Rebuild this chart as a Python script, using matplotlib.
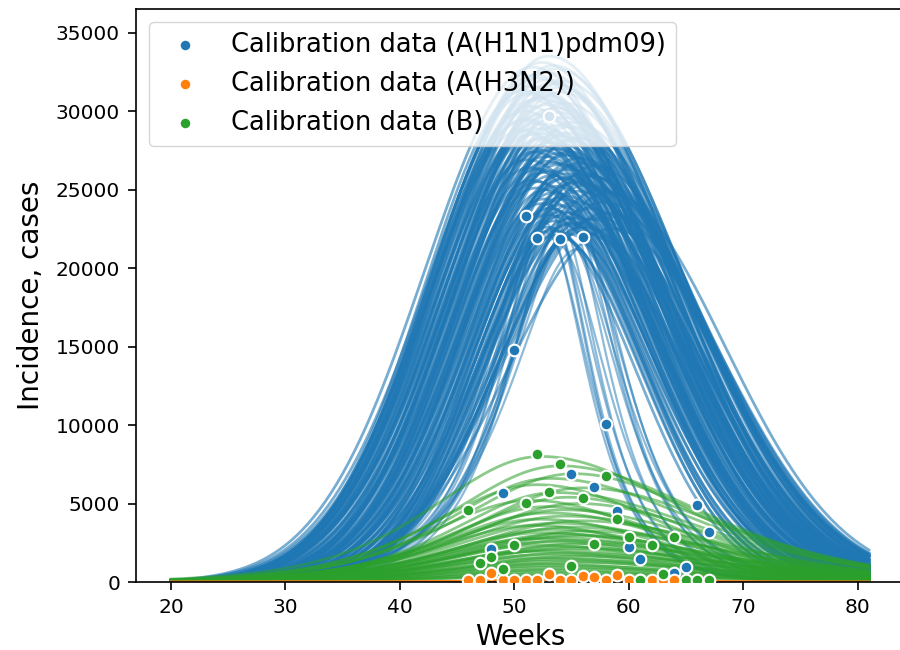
import numpy as np
import matplotlib
matplotlib.use("Agg")
import matplotlib.pyplot as plt

# ---------------- data ----------------
weeks = np.arange(20, 81.01, 0.25)

# A(H1N1)pdm09 model trajectories (bell-shaped group):
# peak week, peak cases, spread before the peak, spread after the peak (weeks)
blue_peak_week = [
    53.0, 52.4, 53.6, 51.8, 52.9, 53.3, 51.4, 52.2, 54.0, 52.7, 51.1, 53.9, 52.0, 53.4, 50.8, 52.6, 53.7, 51.6, 54.2, 52.1,
    51.6, 52.8, 53.7, 50.9, 52.3, 54.3, 53.1, 51.9, 54.8, 52.6, 53.5, 51.4, 54.1, 52.1, 55.0, 53.2, 51.0, 52.5,
    54.5, 53.8, 50.6, 52.0, 55.3, 53.0, 51.3, 52.9, 54.6, 51.7, 53.4, 55.1, 52.4, 54.0, 50.8, 53.6, 52.2,
    52.2, 53.6, 51.7, 54.6, 55.6, 52.9, 53.9, 51.3, 54.9, 52.5, 56.0, 53.3, 54.3, 52.0, 55.2, 53.7, 51.9, 54.0,
    52.7, 55.8, 53.1, 54.7, 51.1, 56.3, 52.4, 53.8, 55.0, 51.5, 54.4, 52.8, 56.5, 53.5, 52.1, 54.8, 55.4,
    53.4, 54.4, 52.6, 55.4, 53.8, 56.5, 54.2, 52.9, 55.0, 53.5, 54.8, 56.0, 53.2, 54.5, 55.7, 52.3, 53.9, 55.2,
    52.8, 54.1, 56.8, 53.0, 55.9, 54.6, 53.6,
    57.5, 58.0, 57.0, 58.5, 56.8, 57.8, 58.2, 57.3]
blue_peak_cases = [
    33500, 33100, 32700, 32300, 32000, 31800, 31600, 31400, 31200, 31000, 31100, 31500, 32100, 32900, 31300, 32500,
    31700, 32800, 31900, 31200,
    30700, 30400, 30200, 30000, 29800, 29600, 29400, 29200, 29000, 28900, 28700, 28500, 28400, 28200, 28100, 28000,
    29500, 30900, 30500, 29100, 28800, 28600, 28300, 30100, 30300, 29700, 28600, 28900, 30600, 29300, 28300, 29900,
    29400, 28500, 30800,
    27800, 27600, 27400, 27200, 27000, 26800, 26600, 26400, 26300, 26100, 26000, 25900, 25700, 25500, 25400, 25200,
    25100, 27900, 27100, 26700, 26200, 25800, 26900, 25300, 27500, 27300, 26500, 25600, 26000, 25000, 25900, 26700,
    26300, 27400, 25500,
    24800, 24600, 24400, 24200, 24000, 23800, 23600, 23400, 23200, 23000, 22800, 22600, 22400, 22200, 24900, 24100,
    23300, 22900, 22600, 24400, 23100, 23800, 22300, 23500, 22100,
    25000, 23500, 26500, 22500, 25800, 24200, 24800, 23200]
blue_rise_spread = [
    9.4, 9.2, 9.6, 9.0, 9.4, 9.1, 8.8, 9.3, 9.5, 9.0, 8.7, 9.2, 9.4, 9.3, 8.6, 9.5, 9.0, 9.4, 9.6, 8.9,
    8.8, 9.0, 8.9, 8.6, 8.7, 9.1, 8.6, 9.0, 8.9, 8.5, 8.8, 8.6, 8.7, 8.4, 9.0, 8.3, 8.5, 8.9, 9.2, 8.6,
    8.2, 8.8, 8.6, 8.4, 8.7, 9.1, 8.5, 8.3, 9.0, 9.0, 8.2, 8.8, 8.4, 8.6, 9.0,
    8.2, 8.4, 8.0, 8.6, 8.7, 8.1, 8.3, 7.8, 8.5, 7.9, 8.6, 8.2, 8.2, 7.8, 8.4, 8.0, 7.7, 8.5, 8.2, 8.8,
    7.8, 8.1, 7.9, 8.6, 8.3, 8.0, 8.2, 7.6, 8.6, 7.7, 8.7, 8.2, 8.4, 8.3, 8.1,
    7.6, 7.8, 7.4, 8.0, 7.3, 8.2, 7.5, 7.2, 7.8, 7.0, 7.4, 7.9, 6.9, 7.1, 8.1, 7.4, 7.0, 7.7, 6.8, 7.7,
    8.2, 7.2, 7.6, 7.4, 6.7,
    8.6, 8.8, 8.5, 9.0, 8.3, 8.7, 8.9, 8.4]
blue_fall_spread = [
    10.9, 10.6, 11.0, 10.4, 11.2, 10.5, 10.7, 10.3, 10.8, 11.0, 10.2, 11.1, 10.3, 10.6, 10.4, 10.9, 10.2, 10.6,
    10.7, 11.0,
    10.1, 10.5, 10.8, 9.8, 10.2, 10.6, 9.8, 10.3, 10.9, 9.9, 10.4, 9.7, 10.6, 10.1, 11.0, 9.6, 10.2, 9.8, 10.2,
    10.0, 10.3, 10.6, 10.5, 9.5, 9.8, 10.7, 10.2, 10.0, 9.9, 10.8, 9.6, 10.4, 10.1, 9.8, 10.6,
    9.7, 10.1, 9.4, 10.6, 10.9, 9.2, 9.8, 9.5, 10.3, 9.0, 10.7, 9.4, 9.8, 8.9, 10.2, 9.1, 9.3, 9.9, 9.6, 10.6,
    9.0, 10.0, 9.8, 10.6, 9.3, 10.2, 9.6, 9.2, 10.4, 8.8, 10.1, 10.3, 9.4, 9.8, 9.7,
    8.7, 9.4, 8.4, 9.8, 8.2, 10.1, 8.9, 8.1, 9.2, 7.9, 8.6, 9.7, 7.8, 8.2, 9.9, 8.6, 8.4, 9.4, 7.7, 9.0,
    9.6, 8.0, 9.1, 8.7, 7.6,
    10.1, 10.2, 9.9, 10.0, 10.3, 9.8, 10.2, 9.6]

# A(H1N1)pdm09 model trajectories (sharp-peaked group)
blue_sharp_peak_week = [54.0, 53.5, 54.8, 53.0, 55.3, 52.7, 54.4, 55.0, 53.8, 52.9, 54.6, 53.3, 55.5, 52.5]
blue_sharp_peak_cases = [24500, 23800, 23200, 23600, 22800, 22300, 22000, 24000, 21500, 24200, 21800, 22600,
                         21200, 23000]
blue_sharp_rise_width = [4.6, 4.3, 4.8, 4.2, 5.0, 4.4, 4.5, 4.7, 4.1, 4.5, 4.9, 4.0, 5.2, 4.6]
blue_sharp_fall_width = [3.6, 3.4, 3.8, 3.2, 4.0, 3.5, 4.2, 3.7, 3.9, 3.3, 4.4, 3.6, 4.1, 3.4]

# A(H3N2) model trajectories
orange_peak_week = [55.0, 54.2, 56.0, 53.5, 55.6, 54.8, 56.5, 53.0, 55.3, 54.5]
orange_peak_cases = [300, 250, 280, 220, 200, 180, 240, 160, 140, 120]
orange_rise_width = [6.0, 5.6, 6.4, 5.4, 6.2, 5.8, 6.6, 5.2, 5.9, 6.1]
orange_fall_width = [6.2, 6.5, 5.8, 6.0, 6.7, 5.6, 6.1, 5.7, 6.6, 6.3]

# B model trajectories
green_peak_week = [52.3, 54.0, 55.2, 53.1, 52.0, 56.0, 53.6, 54.7, 51.5, 55.6, 52.8, 54.3,
                   53.0, 54.5, 52.2, 55.8, 53.7, 51.8, 54.9, 53.3, 56.3, 52.6, 54.1, 55.4,
                   53.5, 51.9, 54.7, 53.1, 56.0, 52.4, 54.3, 55.1, 53.8, 52.0, 54.6, 53.2,
                   55.7, 52.7, 54.2, 53.6, 55.3, 52.3, 54.0, 53.4, 55.0, 52.9, 54.4, 53.7, 55.5, 53.0]
green_peak_cases = [8000, 7400, 6900, 6600, 6200, 6000, 5700, 5400, 5200, 5000, 4800, 4600,
                    4400, 4200, 4000, 3900, 3750, 3600, 3500, 3350, 3250, 3150, 3050, 2950,
                    2850, 2750, 2650, 2550, 2450, 2350, 2250, 2150, 2050, 1950, 1850, 1750,
                    1650, 1550, 1450, 1350, 1250, 1150, 1050, 950, 850, 750, 650, 550, 450, 400]
green_rise_width = [12.6, 12.8, 13.2, 12.0, 12.4, 13.0, 11.8, 12.5, 12.2, 12.9, 11.9, 12.6,
                    12.3, 13.0, 12.0, 13.3, 12.5, 11.8, 12.8, 12.2, 13.5, 11.9, 12.6, 13.1,
                    12.4, 12.0, 12.9, 12.1, 13.4, 11.7, 12.7, 13.0, 12.3, 11.6, 12.8, 12.2,
                    13.2, 11.9, 12.5, 12.0, 13.0, 11.8, 12.6, 12.2, 12.9, 11.7, 12.4, 12.0, 12.8, 12.1]
green_fall_width = [16.5, 16.8, 15.8, 17.2, 15.0, 16.6, 17.5, 15.2, 14.6, 16.0, 15.4, 16.8,
                    15.8, 16.4, 15.1, 17.0, 16.0, 14.8, 17.5, 15.5, 16.6, 15.9, 17.2, 16.2,
                    15.3, 16.8, 17.8, 15.0, 16.5, 15.6, 17.0, 16.1, 15.4, 16.3, 17.4, 15.2,
                    16.7, 15.8, 17.1, 15.5, 16.4, 15.9, 16.9, 15.3, 16.2, 15.7, 16.6, 15.4, 16.0, 15.0]

# Calibration data
h1n1_weeks = [48, 49, 50, 51, 52, 53, 54, 55, 56, 57, 58, 59, 60, 61, 64, 65, 66, 67]
h1n1_cases = [2100, 5650, 14800, 23300, 21900, 29700, 21850, 6870, 21950, 6060, 10060, 4550,
              2210, 1460, 550, 930, 4930, 3200]
h3n2_weeks = [46, 47, 48, 49, 50, 51, 52, 53, 54, 55, 56, 57, 58, 59, 60, 61, 62, 63, 64]
h3n2_cases = [120, 120, 550, 110, 100, 110, 120, 500, 110, 100, 380, 340, 110, 440, 100, 100, 110, 100, 110]
b_weeks = [46, 47, 48, 49, 50, 51, 52, 53, 54, 55, 56, 57, 58, 59, 60, 61, 62, 63, 64, 65, 66, 67]
b_cases = [4560, 1190, 1570, 820, 2360, 5050, 8150, 5710, 7490, 990, 5370, 2430, 6750, 4030,
           2880, 100, 2360, 510, 2850, 100, 100, 100]

BLUE, ORANGE, GREEN = "#1f77b4", "#ff7f0e", "#2ca02c"


def bell(t, peak_week, peak_cases, rise_s, fall_s):
    d = t - peak_week
    s = np.where(d < 0, rise_s, fall_s)
    return peak_cases * np.exp(-0.5 * (d / s) ** 2)


def sech_curve(t, peak_week, peak_cases, rise_w, fall_w, power):
    d = t - peak_week
    w = np.where(d < 0, rise_w, fall_w)
    return peak_cases / np.cosh(d / w) ** power


# ---------------- figure ----------------
fig = plt.figure(figsize=(9, 6.5), dpi=100)
ax = fig.add_axes([0.1511, 0.1046, 0.8533, 0.8815])

LW = 2.0
for pw, pc, rs, fs in zip(blue_peak_week, blue_peak_cases, blue_rise_spread, blue_fall_spread):
    ax.plot(weeks, bell(weeks, pw, pc, rs, fs), color=BLUE, alpha=0.6, lw=LW)
for pw, pc, rw, fw in zip(blue_sharp_peak_week, blue_sharp_peak_cases, blue_sharp_rise_width,
                          blue_sharp_fall_width):
    ax.plot(weeks, sech_curve(weeks, pw, pc, rw, fw, 1), color=BLUE, alpha=0.5, lw=1.6)
for pw, pc, rw, fw in zip(green_peak_week, green_peak_cases, green_rise_width, green_fall_width):
    ax.plot(weeks, sech_curve(weeks, pw, pc, rw, fw, 2), color=GREEN, alpha=0.55, lw=LW)
for pw, pc, rw, fw in zip(orange_peak_week, orange_peak_cases, orange_rise_width, orange_fall_width):
    ax.plot(weeks, sech_curve(weeks, pw, pc, rw, fw, 2), color=ORANGE, alpha=0.7, lw=1.6)

ax.scatter(h1n1_weeks, h1n1_cases, s=70, color=BLUE, edgecolors="white", linewidths=1.5,
           zorder=5, label="Calibration data (A(H1N1)pdm09)")
ax.scatter(h3n2_weeks, h3n2_cases, s=70, color=ORANGE, edgecolors="white", linewidths=1.5,
           zorder=5, label="Calibration data (A(H3N2))")
ax.scatter(b_weeks, b_cases, s=70, color=GREEN, edgecolors="white", linewidths=1.5,
           zorder=5, label="Calibration data (B)")

ax.set_xlim(16.95, 84.05)
ax.set_ylim(0, 36500)
ax.set_xticks([20, 30, 40, 50, 60, 70, 80])
ax.set_yticks(np.arange(0, 35001, 5000))
ax.tick_params(labelsize=14.5, length=5.5, width=1.2, pad=6)
for sp in ax.spines.values():
    sp.set_linewidth(1.2)
ax.spines["right"].set_visible(False)
ax.set_xlabel("Weeks", fontsize=20, labelpad=4)
ax.set_ylabel("Incidence, cases", fontsize=20, labelpad=8)
ax.legend(loc="upper left", fontsize=18.5)

fig.savefig("out.png", dpi=100)
